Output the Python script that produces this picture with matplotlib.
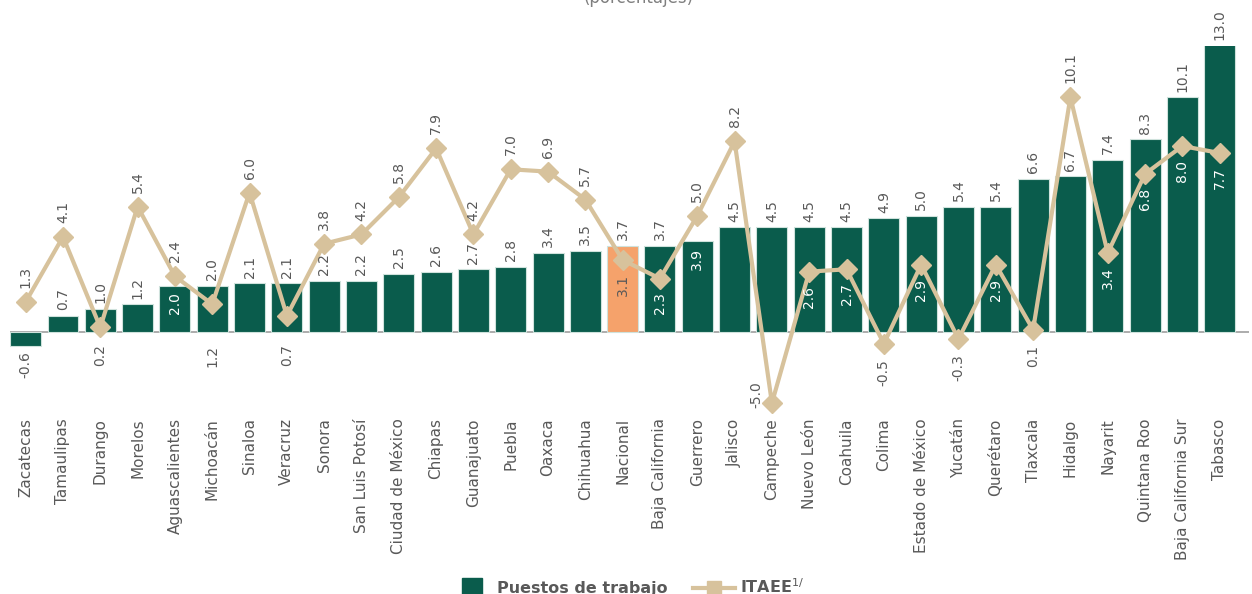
import numpy as np
import matplotlib
matplotlib.use('Agg')
import matplotlib.pyplot as plt
from matplotlib.lines import Line2D

# datos (variacion anual, porcentajes)
estados = ['Zacatecas', 'Tamaulipas', 'Durango', 'Morelos', 'Aguascalientes',
           'Michoacán', 'Sinaloa', 'Veracruz', 'Sonora', 'San Luis Potosí',
           'Ciudad de México', 'Chiapas', 'Guanajuato', 'Puebla', 'Oaxaca',
           'Chihuahua', 'Nacional', 'Baja California', 'Guerrero', 'Jalisco',
           'Campeche', 'Nuevo León', 'Coahuila', 'Colima', 'Estado de México',
           'Yucatán', 'Querétaro', 'Tlaxcala', 'Hidalgo', 'Nayarit',
           'Quintana Roo', 'Baja California Sur', 'Tabasco']
puestos = [-0.6, 0.7, 1.0, 1.2, 2.0, 2.0, 2.1, 2.1, 2.2, 2.2, 2.5, 2.6, 2.7,
           2.8, 3.4, 3.5, 3.7, 3.7, 3.9, 4.5, 4.5, 4.5, 4.5, 4.9, 5.0, 5.4,
           5.4, 6.6, 6.7, 7.4, 8.3, 10.1, 13.0]
itaee = [1.3, 4.1, 0.2, 5.4, 2.4, 1.2, 6.0, 0.7, 3.8, 4.2, 5.8, 7.9, 4.2,
         7.0, 6.9, 5.7, 3.1, 2.3, 5.0, 8.2, -5.0, 2.6, 2.7, -0.5, 2.9, -0.3,
         2.9, 0.1, 10.1, 3.4, 6.8, 8.0, 7.7]

VERDE = '#0a5c4c'
NARANJA = '#f5a26b'
TAN = '#d7c29c'
GRIS = '#595959'
YMIN, YMAX = -3.05, 12.3

fig = plt.figure(figsize=(12.52, 5.94), dpi=100)
ax = fig.add_axes([0.008, 0.3215, 0.990, 0.601])

x = np.arange(len(estados))
colores = [NARANJA if e == 'Nacional' else VERDE for e in estados]
ax.bar(x, puestos, width=0.83, color=colores, edgecolor='#cfe2dc',
       linewidth=0.8, zorder=2)
ax.axhline(0, color='#a6a6a6', lw=1.3, zorder=1)

# la grafica original fija al borde los valores fuera de rango (Campeche)
itaee_plot = np.clip(itaee, YMIN, YMAX)
ax.plot(x, itaee_plot, color=TAN, lw=3, marker='D', ms=10.5, zorder=3,
        clip_on=False)

ax.set_xlim(-0.42, 32.8)
ax.set_ylim(YMIN, YMAX)
ax.set_yticks([])
ax.set_xticks(x)
ax.set_xticklabels(estados, rotation=90, fontsize=11, color=GRIS)
ax.tick_params(axis='x', length=0, pad=11)
for s in ax.spines.values():
    s.set_visible(False)


def etiqueta(xi, yi, txt, dy, va, color=GRIS, dx=0, ha='center'):
    ax.annotate(txt, (xi, yi), xytext=(dx, dy), textcoords='offset points',
                rotation=90, ha=ha, va=va, fontsize=10, color=color,
                zorder=5, annotation_clip=False)


for i in range(len(estados)):
    b = puestos[i]
    v = itaee[i]
    vp = itaee_plot[i]
    # etiqueta de la barra
    if b < 0:
        etiqueta(i, b, '{:.1f}'.format(b), -4, 'top')
    elif v > b and v - b < 1.3:
        etiqueta(i, b, '{:.1f}'.format(b), -5, 'top', color='white')
    else:
        etiqueta(i, min(b, YMAX), '{:.1f}'.format(b), 4, 'bottom')
    # etiqueta del ITAEE
    if v < YMIN:
        etiqueta(i, vp, '{:.1f}'.format(v), 6, 'center', dx=-6, ha='right')
    elif v > b:
        etiqueta(i, vp, '{:.1f}'.format(v), 10, 'bottom')
    elif v < 0:
        etiqueta(i, vp, '{:.1f}'.format(v), -11, 'top')
    elif v < 1.5:
        etiqueta(i, 0, '{:.1f}'.format(v), -9, 'top')
    else:
        c = GRIS if estados[i] == 'Nacional' else 'white'
        etiqueta(i, vp, '{:.1f}'.format(v), -10, 'top', color=c)

fig.text(0.51, 0.995, '(porcentajes)', ha='center', va='baseline',
         fontsize=12, color='#7f7f7f')

handles = [Line2D([], [], ls='none', marker='s', ms=15, color=VERDE),
           Line2D([], [], color=TAN, lw=3, marker='s', ms=10)]
fig.legend(handles, ['Puestos de trabajo', 'ITAEE$^{1/}$'], loc='center',
           bbox_to_anchor=(0.501, 0.012), ncol=2, frameon=False,
           prop={'weight': 'bold', 'size': 11.5}, labelcolor=GRIS,
           handlelength=2.6, handletextpad=0.3, columnspacing=1.6)

fig.savefig('out.png', dpi=100)
